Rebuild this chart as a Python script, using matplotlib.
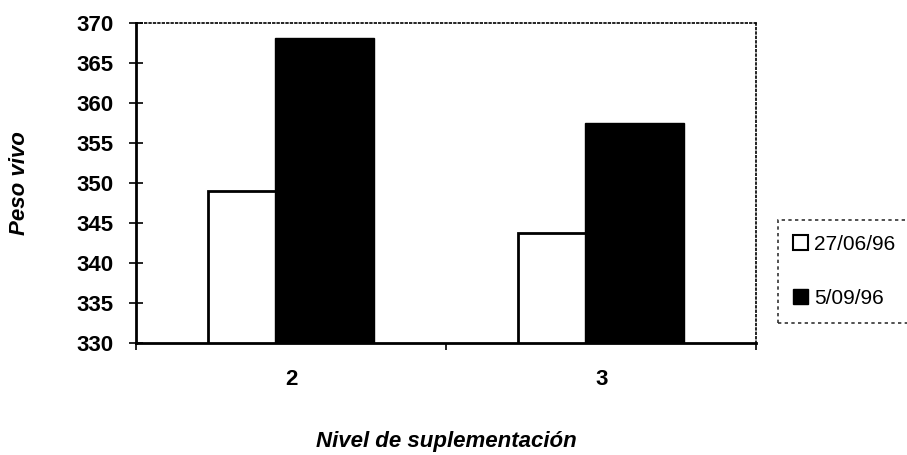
import matplotlib.pyplot as plt
import numpy as np
from matplotlib.patches import Patch

# data
categories = ['2', '3']
series_names = ['27/06/96', '5/09/96']
peso_jun = [349.0, 343.8]
peso_sep = [368.1, 357.5]
y_ticks = [330, 335, 340, 345, 350, 355, 360, 365, 370]

plt.rcParams['font.family'] = ['Liberation Sans', 'DejaVu Sans']

fig = plt.figure(figsize=(9.07, 4.55), dpi=100)
ax = fig.add_axes([0.150, 0.246, 0.684, 0.703])

x = np.arange(len(categories))
w = 0.32
off = 0.108
ax.bar(x - off, peso_jun, w, color='white', edgecolor='black',
       linewidth=2, zorder=2)
ax.bar(x + off, peso_sep, w, color='black', edgecolor='black',
       linewidth=1, zorder=3)

ax.set_ylim(330, 370)
ax.set_xlim(-0.5, len(categories) - 0.5)
ax.set_yticks(y_ticks)
ax.set_yticklabels([str(v) for v in y_ticks], fontsize=16, fontweight='bold')
ax.tick_params(axis='y', direction='inout', length=10, width=1.2, pad=11)

# category labels sit between the tick marks
ax.set_xticks(np.arange(-0.5, len(categories)), labels=[''] * (len(categories) + 1))
ax.tick_params(axis='x', which='major', direction='out', length=5, width=1.2)
ax.set_xticks(x, labels=categories, minor=True)
ax.tick_params(axis='x', which='minor', length=0, pad=19, labelsize=16)
for t in ax.get_xticklabels(minor=True):
    t.set_fontweight('bold')

for side in ['top', 'right']:
    ax.spines[side].set_linestyle(':')
    ax.spines[side].set_linewidth(1.2)
for side in ['left', 'bottom']:
    ax.spines[side].set_linewidth(2)

ax.set_ylabel('Peso vivo', fontsize=16, fontweight='bold', style='italic')
ax.yaxis.set_label_coords(-0.171, 0.5)
ax.set_xlabel('Nivel de suplementación', fontsize=16, fontweight='bold',
              style='italic')
ax.xaxis.set_label_coords(0.5, -0.275)

handles = [Patch(facecolor='white', edgecolor='black', linewidth=1.5),
           Patch(facecolor='black', edgecolor='black')]
leg = fig.legend(handles, series_names, loc='upper left',
                 bbox_to_anchor=(778 / 907, 1 - 220 / 455),
                 fontsize=15, frameon=True, fancybox=False,
                 handlelength=0.72, handleheight=0.72, handletextpad=0.3,
                 labelspacing=1.7, borderpad=0.7, borderaxespad=0)
leg.get_frame().set_edgecolor('black')
leg.get_frame().set_linestyle((0, (2, 2)))
leg.get_frame().set_linewidth(1.2)

fig.savefig('out.png', dpi=100)
